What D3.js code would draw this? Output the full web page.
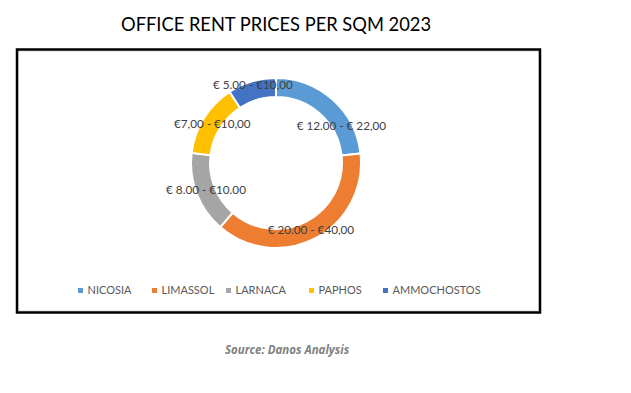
<!DOCTYPE html>
<html>
<head>
<meta charset="utf-8">
<script src="https://cdn.jsdelivr.net/npm/d3@7"></script>
<style>
  html, body { margin: 0; padding: 0; background: #fff; }
  svg { display: block; }
</style>
</head>
<body>
<svg id="chart" width="631" height="393"></svg>
<script>
const titleText = "OFFICE RENT PRICES PER SQM 2023";
const sourceText = "Source: Danos Analysis";
const categories = ["NICOSIA", "LIMASSOL", "LARNACA", "PAPHOS", "AMMOCHOSTOS"];
const shares = [23.2, 38.2, 15.5, 13.9, 9.2];
const priceLabels = ["€ 12.00 - € 22,00", "€ 20.00 - €40,00", "€ 8.00 - €10.00", "€7,00 - €10,00", "€ 5.00 - €10,00"];
const colors = ["#5B9BD5", "#ED7D31", "#A5A5A5", "#FFC000", "#4472C4"];

const svg = d3.select("#chart");
const font = "Lato, 'Open Sans', sans-serif";

// title
svg.append("text")
  .attr("x", 276).attr("y", 31)
  .attr("text-anchor", "middle")
  .attr("font-family", font)
  .attr("font-size", 18.3)
  .attr("fill", "#000")
  .text(titleText);

// frame
svg.append("rect")
  .attr("x", 18).attr("y", 51).attr("width", 521).attr("height", 260)
  .attr("fill", "none").attr("stroke", "#d9d9d9").attr("stroke-width", 1);
svg.append("rect")
  .attr("x", 17).attr("y", 49.5).attr("width", 523).attr("height", 263)
  .attr("fill", "none").attr("stroke", "#000").attr("stroke-width", 2.5);

const cx = 276, cy = 163, rOuter = 85, rInner = 66;
const g = svg.append("g").attr("transform", `translate(${cx},${cy})`);

const pie = d3.pie().sort(null).value(d => d.v);
const data = categories.map((c, i) => ({ c, v: shares[i], label: priceLabels[i], color: colors[i] }));
const arcs = pie(data);
const arc = d3.arc().innerRadius(rInner).outerRadius(rOuter);

g.selectAll("path.slice").data(arcs).enter().append("path")
  .attr("class", "slice")
  .attr("d", arc)
  .attr("fill", d => d.data.color)
  .attr("stroke", "#fff")
  .attr("stroke-width", 2);

// labels
const angleNudge = [0.33, 0, 0, 0, 0];
const radiusNudge = [0, 0, 0, 0, 6];
g.selectAll("text.lbl").data(arcs).enter().append("text")
  .attr("class", "lbl")
  .attr("transform", (d, i) => {
    const a = (d.startAngle + d.endAngle) / 2 + angleNudge[i];
    const r = 75 + radiusNudge[i];
    return `translate(${r * Math.sin(a)},${-r * Math.cos(a)})`;
  })
  .attr("text-anchor", "middle")
  .attr("dy", "0.35em")
  .attr("font-family", font)
  .attr("font-size", 11.7)
  .attr("fill", "#404040")
  .text(d => d.data.label);

// legend
const legendX = [78, 152, 226, 309, 383];
const lg = svg.append("g");
categories.forEach((c, i) => {
  lg.append("rect")
    .attr("x", legendX[i]).attr("y", 288)
    .attr("width", 5).attr("height", 5)
    .attr("fill", colors[i]);
  lg.append("text")
    .attr("x", legendX[i] + 9.5).attr("y", 290.5)
    .attr("dy", "0.35em")
    .attr("font-family", font)
    .attr("font-size", 11)
    .attr("fill", "#595959")
    .text(c);
});

// source
svg.append("text")
  .attr("x", 287).attr("y", 354)
  .attr("text-anchor", "middle")
  .attr("font-family", "'Open Sans', sans-serif")
  .attr("font-size", 11.5)
  .attr("font-weight", "bold")
  .attr("font-style", "italic")
  .attr("fill", "#7f7f7f")
  .text(sourceText);
</script>
</body>
</html>
